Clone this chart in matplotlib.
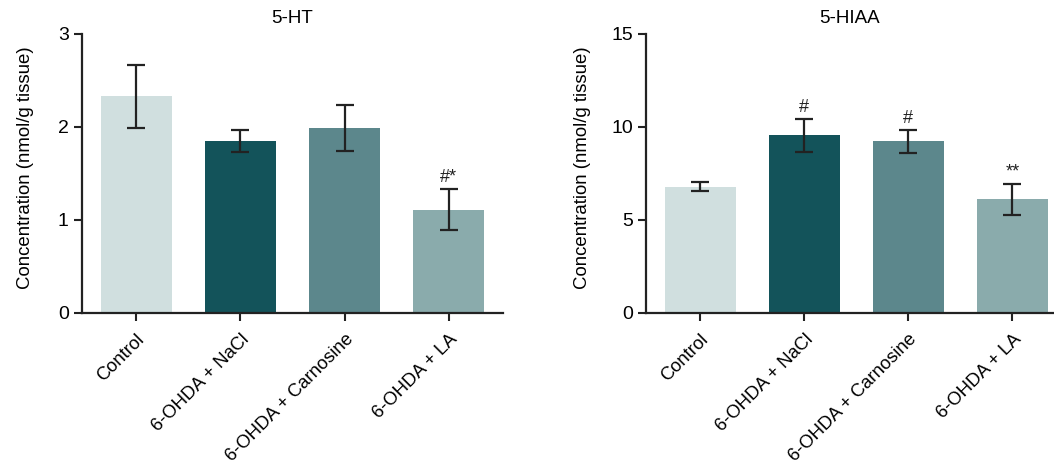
import numpy as np
import matplotlib.pyplot as plt

plt.rcParams['font.family'] = ['Liberation Sans', 'DejaVu Sans']

groups = ['Control', '6-OHDA + NaCl', '6-OHDA + Carnosine', '6-OHDA + LA']
colors = ['#D0DFDF', '#13535A', '#5C878C', '#8AABAC']

ht_mean = [2.33, 1.85, 1.99, 1.11]
ht_err = [0.34, 0.12, 0.245, 0.22]
ht_marks = ['', '', '', '#*']

hiaa_mean = [6.80, 9.55, 9.22, 6.11]
hiaa_err = [0.25, 0.88, 0.61, 0.82]
hiaa_marks = ['', '#', '#', '**']

fig = plt.figure(figsize=(10.54, 4.65), dpi=100)
ax1 = fig.add_axes([0.0778, 0.3269, 0.3994, 0.60])
ax2 = fig.add_axes([0.6129, 0.3269, 0.3871, 0.60])


def draw(ax, means, errs, marks, title, ymax, yticks, xright, labx):
    x = np.arange(len(groups))
    ax.bar(x, means, width=0.68, color=colors, zorder=2)
    ax.errorbar(x, means, yerr=errs, fmt='none', ecolor='#222222',
                elinewidth=1.6, capsize=6.5, capthick=1.6, zorder=3)
    for xi, m, e, t in zip(x, means, errs, marks):
        if t:
            ax.text(xi, m + e + ymax * 0.012, t, ha='center', va='bottom',
                    fontsize=13, color='#222222')
    ax.set_xlim(-0.52, xright)
    ax.set_ylim(0, ymax)
    ax.set_yticks(yticks)
    ax.set_xticks(x)
    ax.set_xticklabels(groups, rotation=45, ha='right', rotation_mode='anchor',
                       fontsize=13.2)
    ax.tick_params(axis='y', labelsize=14, length=6, width=1.5, color='#222222')
    ax.tick_params(axis='x', length=6, width=1.5, color='#222222', pad=7)
    for s in ['top', 'right']:
        ax.spines[s].set_visible(False)
    for s in ['left', 'bottom']:
        ax.spines[s].set_linewidth(1.6)
        ax.spines[s].set_color('#222222')
    ax.set_ylabel('Concentration (nmol/g tissue)', fontsize=13.4)
    ax.yaxis.set_label_coords(labx, 0.52)
    ax.set_title(title, fontsize=13.5, pad=8)


draw(ax1, ht_mean, ht_err, ht_marks, '5-HT', 3, [0, 1, 2, 3], 3.52, -0.114)
draw(ax2, hiaa_mean, hiaa_err, hiaa_marks, '5-HIAA', 15, [0, 5, 10, 15], 3.40, -0.135)

fig.savefig('out.png', dpi=100)
